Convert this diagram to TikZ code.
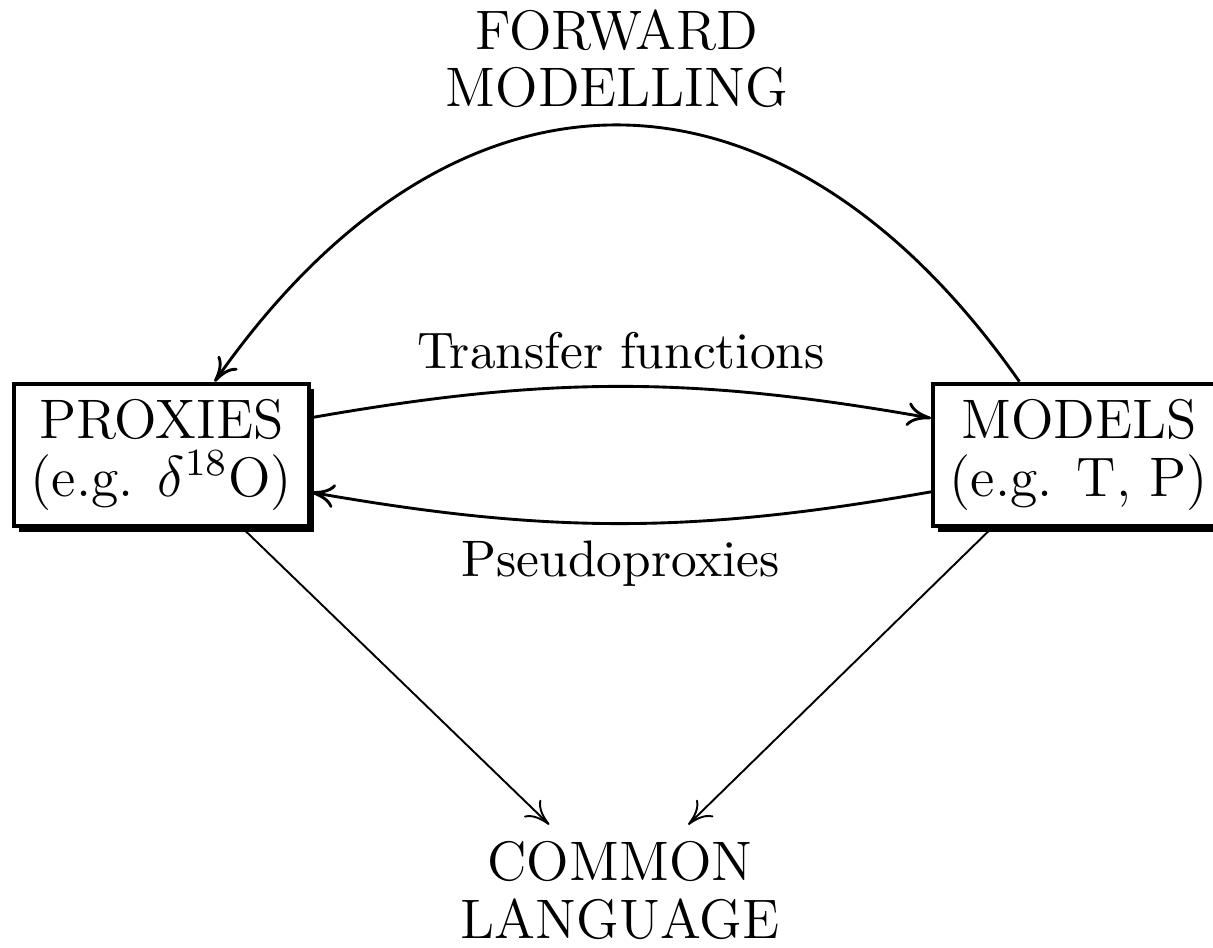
\documentclass[tikz,border=0pt]{standalone}
\usetikzlibrary{arrows.meta,shadows}
\tikzset{%
  box/.style  = {shape=rectangle, draw, thick, fill=white, align=center,%
                 inner xsep=3.5pt, font=\fontsize{11.6}{12}\selectfont,%
                 drop shadow={shadow xshift=1.1pt, shadow yshift=-1.1pt,%
                              fill=black, opacity=1}},%
  tag/.style  = {align=center, font=\fontsize{11.6}{12}\selectfont},%
  edgetext/.style = {font=\fontsize{10.7}{12}\selectfont},%
  link/.style = {-{To[length=5pt, width=5pt]}, semithick},%
  feed/.style = {-{To[length=5pt, width=5pt]}}%
}
\begin{document}
\begin{tikzpicture}
  \useasboundingbox (0,0) rectangle (8.883,6.942);
  % -------------- PROXIES AND MODELS -----------------------------
  \node [box, anchor=west] (proxies) at (0.088,3.610) {PROXIES\\(e.g. $\delta^{18}$O)};
  \node [box, anchor=west] (models) at (6.818,3.610) {MODELS\\(e.g. T, P)};
  \node [tag] (common) at (4.540,0.420) {COMMON\\LANGUAGE};
  % -------------- ARCS BETWEEN THEM -----------------------------
  \draw[link] (models.129) to[out=125, in=55, looseness=1.33]
    node [tag, midway, above] (fwd) {FORWARD\\MODELLING} (proxies.54);
  \draw[link] (proxies.14) to[bend left=10]
    node [edgetext, midway, above] (tf) {Transfer functions} (models.166);
  \draw[link] (models.194) to[bend left=10]
    node [edgetext, midway, below] (pp) {Pseudoproxies} (proxies.-14);
  % -------------- DOWN TO THE COMMON LANGUAGE -----------------------------
  \draw[feed] (proxies.-42) -- (common.137);
  \draw[feed] (models.220) -- (common.44);
\end{tikzpicture}
\end{document}
